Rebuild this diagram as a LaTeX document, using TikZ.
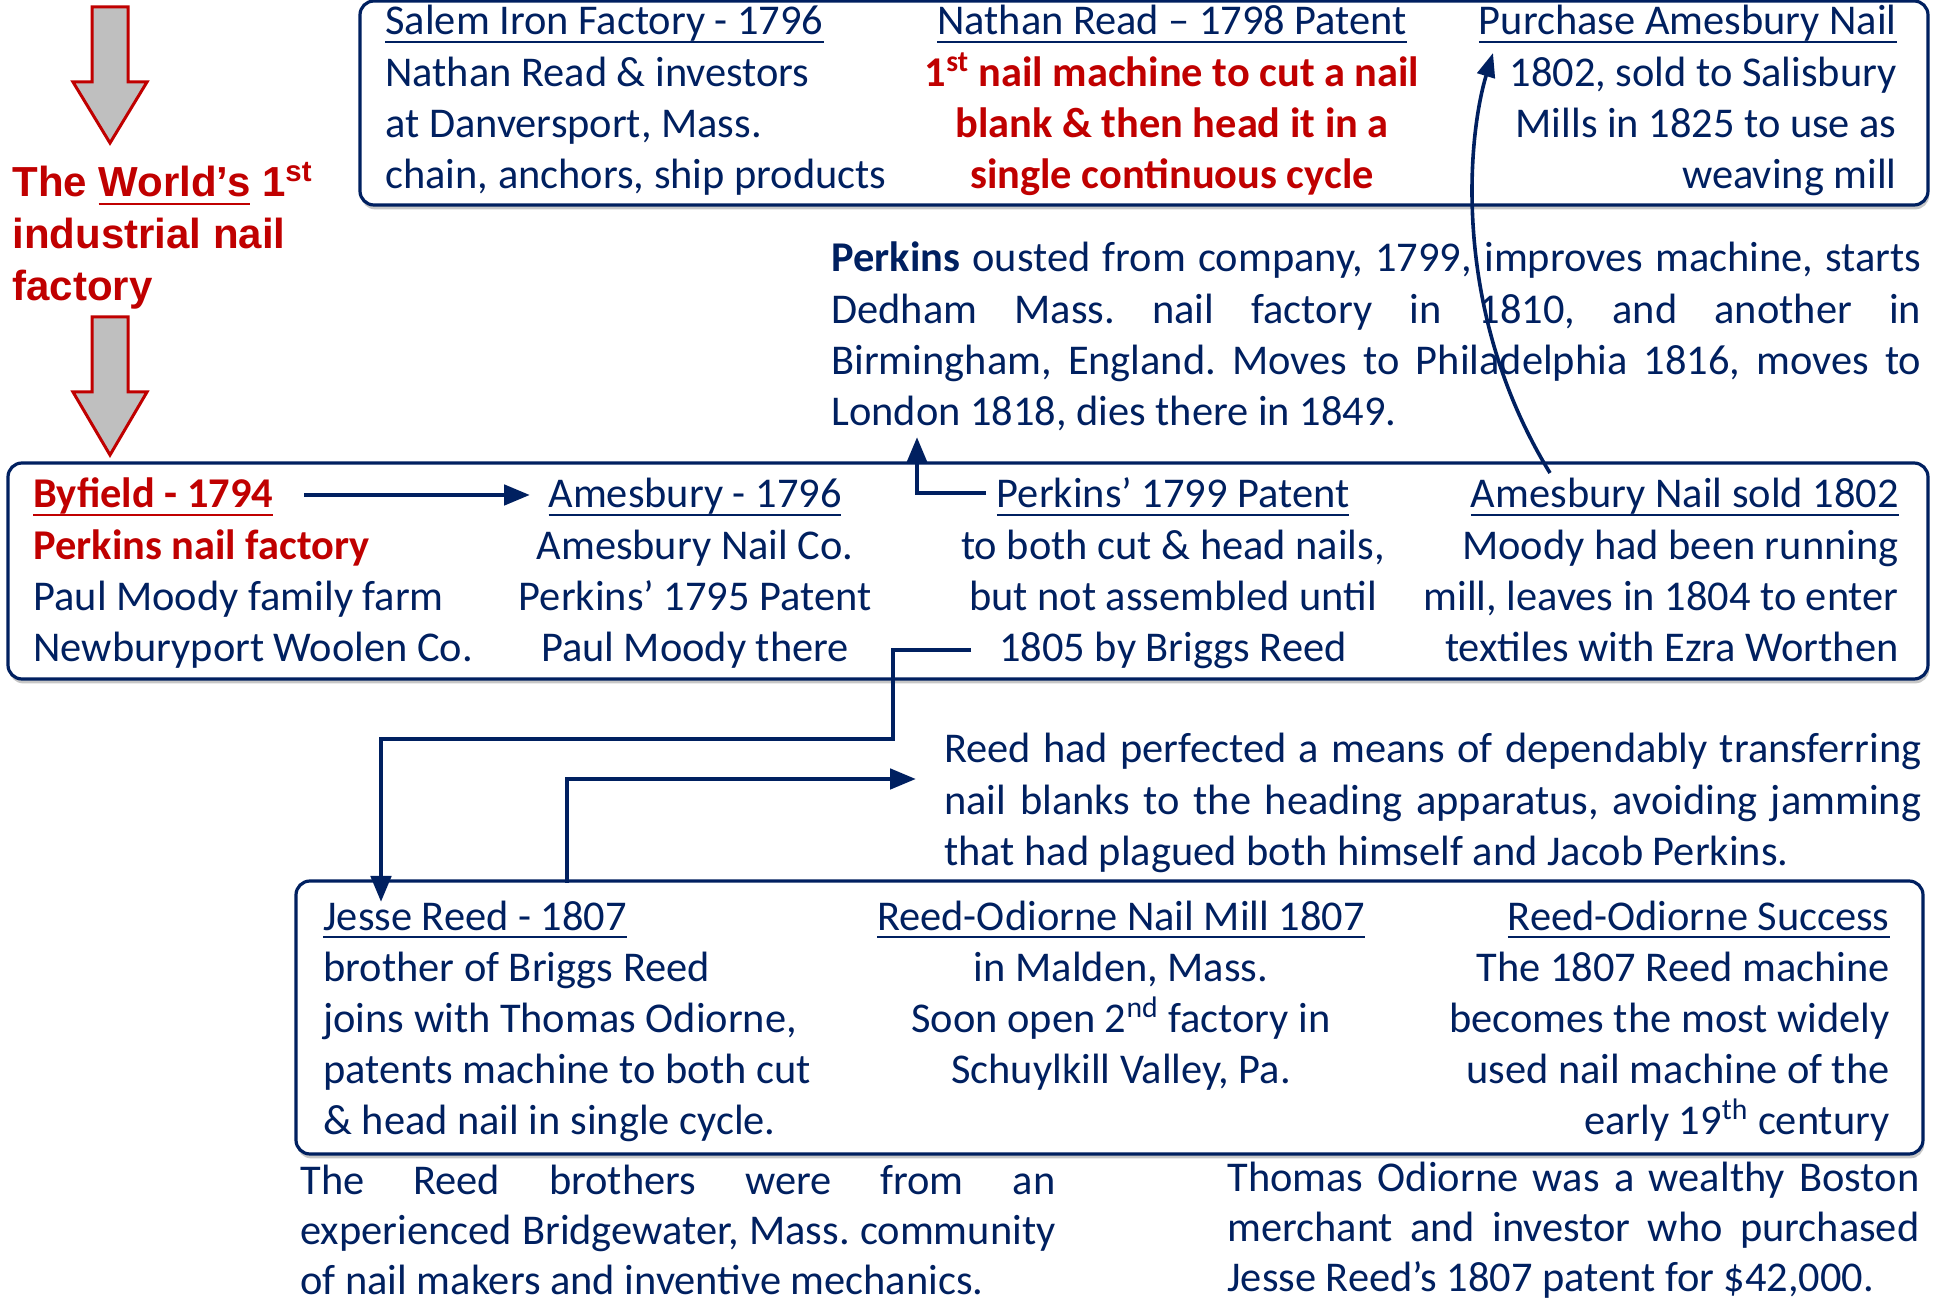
\documentclass[tikz,border=0pt]{standalone}
\usepackage{fontspec}
\setmainfont{Carlito}
\newfontfamily\arialfont{Liberation Sans}
\usetikzlibrary{arrows.meta,shadows}
\definecolor{navy}{RGB}{0,32,96}
\definecolor{myred}{RGB}{192,0,0}
\definecolor{arrgray}{RGB}{191,191,191}
\frenchspacing
\newcommand\ulin[1]{\setbox0\hbox{#1}\rlap{\rule[-0.19em]{\wd0}{0.05em}}\box0\relax}
\newcommand\rb[1]{{\color{myred}\bfseries #1}}
\newcommand\jl[2]{\makebox[#1][s]{#2}}
\tikzset{
  txt/.style={inner sep=0pt, text=navy, font=\fontsize{21.2}{25.6}\selectfont},
  txtc/.style={inner sep=0pt, text=navy, font=\fontsize{21.2}{25}\selectfont},
  panel/.style={draw=navy, line width=1.6pt, rounded corners=7pt, fill=white,
    drop shadow={shadow xshift=0.6pt, shadow yshift=-2.2pt, opacity=0.22, fill=black}},
  conn/.style={draw=navy, line width=2.4pt},
  arrtip/.style={-{Triangle[length=13pt,width=10pt]}},
  bigarrow/.style={fill=arrgray, draw=myred, line width=1.5pt, line join=miter},
}
\begin{document}
\begin{tikzpicture}[x=0.5pt,y=-0.5pt]
\fill[white] (0,0) rectangle (1940,1304);
\path[use as bounding box] (0,0) rectangle (1940,1304);

% panels
\node[panel, minimum width=784pt, minimum height=102pt] (topbox) at (1144,103) {};
\node[panel, minimum width=960pt, minimum height=108pt] (midbox) at (968,571) {};
\node[panel, minimum width=813.5pt, minimum height=136.5pt] (botbox) at (1109.5,1017.5) {};

% gray arrows
\draw[bigarrow] (92,7) -- (128,7) -- (128,82) -- (147,82) -- (110,143) -- (73,82) -- (92,82) -- cycle;
\draw[bigarrow] (92,317) -- (128,317) -- (128,392) -- (147,392) -- (110,455) -- (73,392) -- (92,392) -- cycle;

% left title
\node[inner sep=0pt, anchor=base west, text=myred, font=\arialfont\bfseries\fontsize{21}{26}\selectfont] (world) at (12,197)
  {\begin{tabular}[t]{@{}l@{}}The \ulin{World’s} 1\textsuperscript{st}\\ industrial nail\\ factory\end{tabular}};

% top box
\node[txt, anchor=base west] (t1) at (385,35)
  {\begin{tabular}[t]{@{}l@{}}\ulin{Salem Iron Factory - 1796}\\ Nathan Read \& investors\\ at Danversport, Mass.\\ chain, anchors, ship products\end{tabular}};
\node[txt, anchor=base] (t2) at (1172,35)
  {\begin{tabular}[t]{@{}c@{}}\ulin{Nathan Read – 1798 Patent}\\ \rb{1\textsuperscript{st} nail machine to cut a nail}\\ \rb{blank \& then head it in a}\\ \rb{single continuous cycle}\end{tabular}};
\node[txt, anchor=base east] (t3) at (1897,35)
  {\begin{tabular}[t]{@{}r@{}}\ulin{Purchase Amesbury Nail}\\ 1802, sold to Salisbury\\ Mills in 1825 to use as\\ weaving mill\end{tabular}};

% Perkins paragraph
\node[txt, anchor=base west] (perk) at (831,272)
  {\begin{tabular}[t]{@{}l@{}}\jl{545pt}{\textbf{Perkins} ousted from company, 1799, improves machine, starts}\\
   \jl{545pt}{Dedham Mass. nail factory in 1810, and another in}\\
   \jl{545pt}{Birmingham, England. Moves to Philadelphia 1816, moves to}\\
   London 1818, dies there in 1849.\end{tabular}};

% middle box
\node[txt, anchor=base west] (m1) at (33,508)
  {\begin{tabular}[t]{@{}l@{}}\rb{\ulin{Byfield - 1794}}\\ \rb{Perkins nail factory}\\ Paul Moody family farm\\ Newburyport Woolen Co.\end{tabular}};
\node[txt, anchor=base] (m2) at (695,508)
  {\begin{tabular}[t]{@{}c@{}}\ulin{Amesbury - 1796}\\ Amesbury Nail Co.\\ Perkins’ 1795 Patent\\ Paul Moody there\end{tabular}};
\node[txt, anchor=base] (m3) at (1173,508)
  {\begin{tabular}[t]{@{}c@{}}\ulin{Perkins’ 1799 Patent}\\ to both cut \& head nails,\\ but not assembled until\\ 1805 by Briggs Reed\end{tabular}};
\node[txt, anchor=base east] (m4) at (1899,508)
  {\begin{tabular}[t]{@{}r@{}}\ulin{Amesbury Nail sold 1802}\\ Moody had been running\\ mill, leaves in 1804 to enter\\ textiles with Ezra Worthen\end{tabular}};

% Reed paragraph
\node[txt, anchor=base west] (reed) at (944,763)
  {\begin{tabular}[t]{@{}l@{}}\jl{488.5pt}{Reed had perfected a means of dependably transferring}\\
   \jl{488.5pt}{nail blanks to the heading apparatus, avoiding jamming}\\
   that had plagued both himself and Jacob Perkins.\end{tabular}};

% bottom box
\node[txt, anchor=base west] (b1) at (323,930)
  {\begin{tabular}[t]{@{}l@{}}\ulin{Jesse Reed - 1807}\\ brother of Briggs Reed\\ joins with Thomas Odiorne,\\ patents machine to both cut\\ \& head nail in single cycle.\end{tabular}};
\node[txt, anchor=base] (b2) at (1121,930)
  {\begin{tabular}[t]{@{}c@{}}\ulin{Reed-Odiorne Nail Mill 1807}\\ in Malden, Mass.\\ Soon open 2\textsuperscript{nd} factory in\\ Schuylkill Valley, Pa.\end{tabular}};
\node[txt, anchor=base east] (b3) at (1890,930)
  {\begin{tabular}[t]{@{}r@{}}\ulin{Reed-Odiorne Success}\\ The 1807 Reed machine\\ becomes the most widely\\ used nail machine of the\\ early 19\textsuperscript{th} century\end{tabular}};

% bottom paragraphs
\node[txtc, anchor=base west] (bl) at (300,1194)
  {\begin{tabular}[t]{@{}l@{}}\jl{377.5pt}{The Reed brothers were from an}\\
   \jl{377.5pt}{experienced Bridgewater, Mass. community}\\
   of nail makers and inventive mechanics.\end{tabular}};
\node[txtc, anchor=base west] (br) at (1227,1191)
  {\begin{tabular}[t]{@{}l@{}}\jl{346pt}{Thomas Odiorne was a wealthy Boston}\\
   \jl{346pt}{merchant and investor who purchased}\\
   Jesse Reed’s 1807 patent for \$42,000.\end{tabular}};

% connector end points
\coordinate (byfE) at (304,495);
\coordinate (amesW) at (530,495);
\coordinate (p99W) at (986,493);
\coordinate (perkS) at (917,437);
\coordinate (briggsW) at (971,650);
\coordinate (jesseN) at (381,902);
\coordinate (jesseTop) at (567,883);
\coordinate (reedW) at (916,779);
\coordinate (soldN) at (1550,473);
\coordinate (purchW) at (1493,53);

% connectors
\draw[conn, arrtip] (byfE) -- (amesW);
\draw[conn, arrtip] (p99W) -| (perkS);
\draw[conn, arrtip] (briggsW) -- (893,650) -- (893,739) -- (381,739) -- (jesseN);
\draw[conn, arrtip] (jesseTop) -- (567,779) -- (reedW);
\draw[draw=navy, line width=1.8pt, -{Triangle[length=12pt,width=9pt]}] (soldN) .. controls (1450,310) and (1468,135) .. (purchW);
\end{tikzpicture}
\end{document}
